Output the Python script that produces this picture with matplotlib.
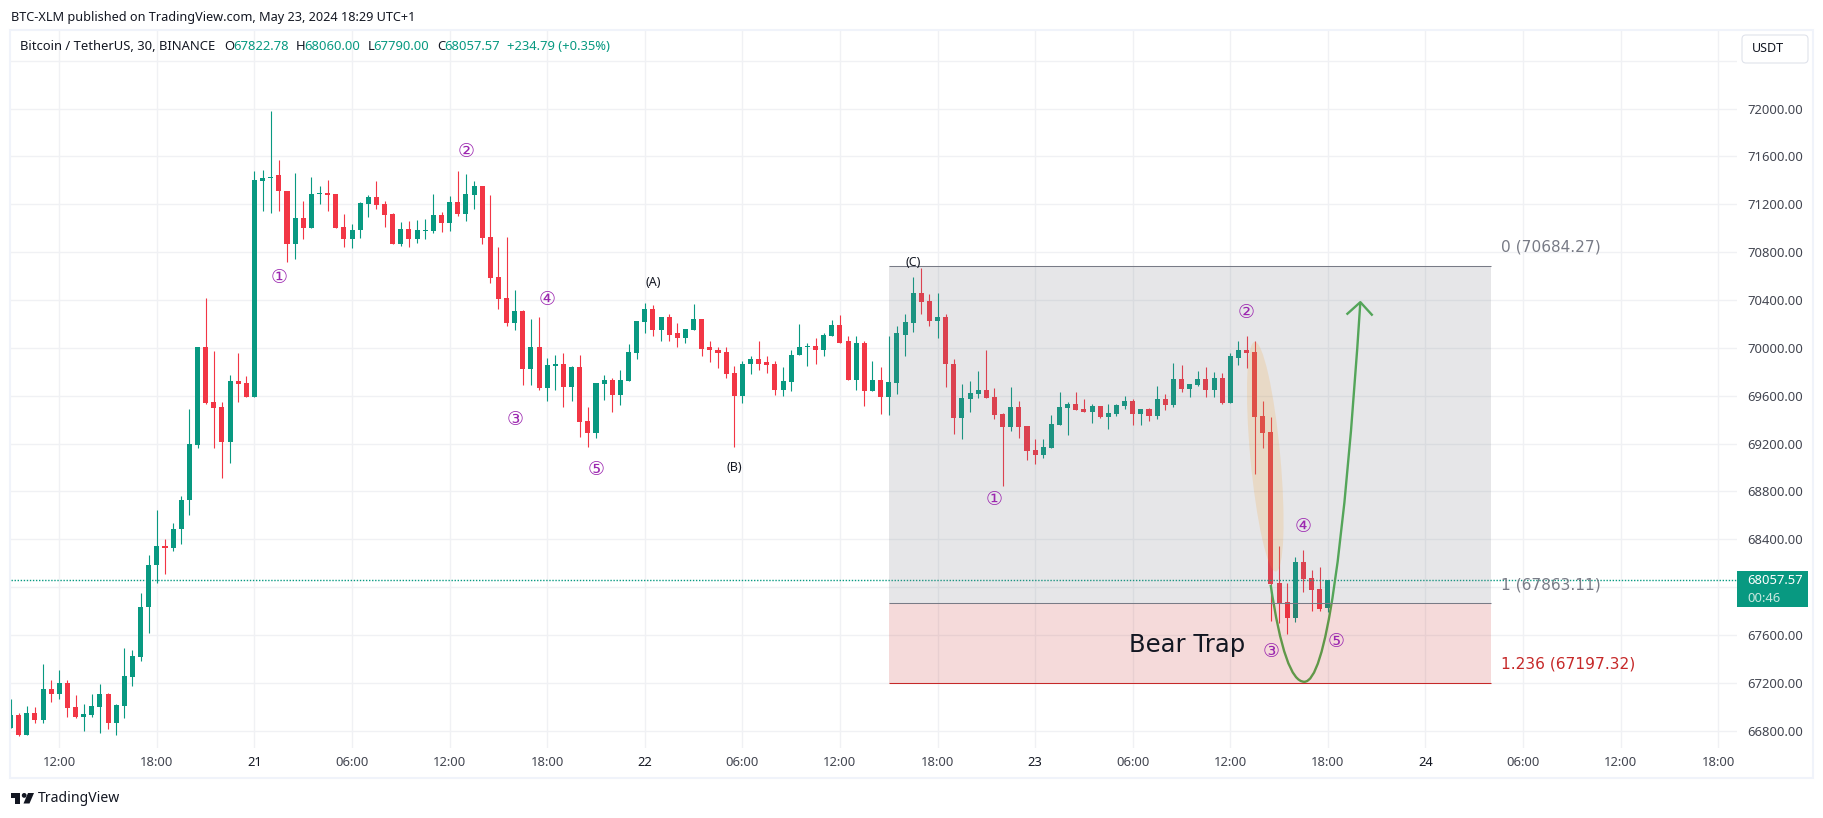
import numpy as np
import matplotlib
matplotlib.use("Agg")
import matplotlib.pyplot as plt
from matplotlib.patches import Rectangle, Ellipse, PathPatch, Polygon, Circle, FancyBboxPatch
from matplotlib.path import Path
from matplotlib.transforms import IdentityTransform

# --- BTC/USDT 30m candles, bar 0 = May 20 12:00 ---
first_bar = -6
opens = [
    66822, 66928, 66764, 66945, 66889, 67145, 67103, 67195, 66995, 66914,
    66931, 66995, 67103, 66864, 67006, 67248, 67414, 67831, 68182, 68346,
    68323, 68482, 68724, 69189, 70003, 69545, 69503, 69214, 69720, 69703,
    69589, 71395, 71417, 71446, 71312, 70865, 71087, 70998, 71282, 71293,
    71287, 71013, 70906, 70982, 71204, 71262, 71204, 71120, 70870, 70995,
    70912, 70979, 70979, 71112, 71045, 71220, 71120, 71279, 71354, 70929,
    70595, 70420, 70211, 70311, 69819, 70003, 69661, 69844, 69861, 69669,
    69836, 69386, 69286, 69694, 69728, 69602, 69719, 69953, 70220, 70328,
    70145, 70261, 70120, 70086, 70153, 70245, 70003, 69986, 69961, 69786,
    69594, 69861, 69903, 69878, 69861, 69644, 69711, 69936, 70011, 70019,
    69986, 70103, 70195, 70053, 69728, 70044, 69636, 69728, 69586, 69703,
    70111, 70211, 70461, 70395, 70228, 70261, 69869, 69411, 69569, 69611,
    69644, 69586, 69444, 69336, 69502, 69344, 69144, 69102, 69161, 69352,
    69494, 69527, 69486, 69461, 69511, 69419, 69444, 69511, 69553, 69444,
    69486, 69428, 69569, 69519, 69736, 69653, 69686, 69736, 69644, 69745,
    69536, 69913, 69979, 69963, 69429, 69295, 68036, 67878, 67744, 68211,
    68078, 67986, 67822.78,
]
highs = [
    67061, 66945, 67003, 66995, 67353, 67220, 67303, 67220, 67095, 67020,
    67103, 67186, 67111, 67020, 67487, 67478, 67954, 68271, 68646, 68404,
    68537, 68763, 69486, 70003, 70420, 69970, 69545, 69770, 69953, 69762,
    71476, 71484, 71979, 71571, 71312, 71462, 71229, 71429, 71354, 71404,
    71287, 71121, 71037, 71220, 71279, 71396, 71229, 71129, 71054, 71062,
    71070, 71079, 71287, 71137, 71270, 71479, 71454, 71396, 71354, 71279,
    70845, 70929, 70487, 70320, 70245, 70261, 69919, 69944, 69953, 69844,
    69944, 69502, 69703, 69769, 69744, 69811, 70028, 70228, 70378, 70361,
    70261, 70286, 70211, 70161, 70370, 70245, 70053, 70003, 70003, 69844,
    69886, 69928, 70061, 69928, 69894, 69836, 69978, 70203, 70044, 70086,
    70120, 70236, 70278, 70095, 70095, 70053, 69894, 69836, 70103, 70186,
    70286, 70595, 70670, 70453, 70461, 70286, 69903, 69694, 69719, 69803,
    69978, 69661, 69452, 69669, 69552, 69344, 69236, 69236, 69436, 69627,
    69544, 69627, 69569, 69527, 69511, 69527, 69527, 69594, 69569, 69486,
    69494, 69678, 69611, 69870, 69853, 69694, 69803, 69836, 69795, 69786,
    69953, 70054, 70096, 70054, 69554, 69421, 68345, 68036, 68253, 68311,
    68145, 68170, 68060,
]
lows = [
    66822, 66755, 66764, 66864, 66864, 67036, 67061, 66914, 66906, 66797,
    66914, 66780, 66814, 66764, 66906, 67172, 67381, 67615, 68032, 68107,
    68298, 68357, 68599, 69164, 69531, 69164, 68914, 69039, 69547, 69589,
    69589, 71140, 71131, 71140, 70714, 70739, 70906, 70998, 71204, 71140,
    71004, 70840, 70832, 70915, 71095, 71162, 71012, 70870, 70853, 70843,
    70878, 70912, 70962, 70970, 70979, 71104, 71062, 71162, 70870, 70545,
    70328, 70186, 70153, 69686, 69686, 69644, 69552, 69644, 69502, 69552,
    69252, 69169, 69244, 69561, 69461, 69519, 69719, 69903, 70128, 70103,
    70053, 70061, 70011, 70044, 70153, 69928, 69878, 69828, 69744, 69169,
    69536, 69778, 69811, 69786, 69602, 69594, 69636, 69936, 69844, 69861,
    69928, 70103, 70044, 69728, 69644, 69511, 69636, 69444, 69436, 69611,
    69928, 70136, 70286, 70186, 70086, 69669, 69277, 69236, 69461, 69577,
    69577, 69402, 68844, 69302, 69244, 69060, 69027, 69077, 69161, 69352,
    69269, 69477, 69461, 69369, 69411, 69319, 69427, 69486, 69353, 69353,
    69386, 69403, 69478, 69503, 69628, 69586, 69678, 69586, 69586, 69528,
    69536, 69854, 69829, 68945, 69162, 67719, 67703, 67611, 67711, 67961,
    67803, 67803, 67790,
]
closes = [
    66928, 66764, 66945, 66889, 67145, 67103, 67195, 66986, 66914, 66936,
    67003, 67103, 66864, 67011, 67253, 67420, 67837, 68187, 68346, 68323,
    68487, 68729, 69194, 70003, 69539, 69497, 69214, 69720, 69695, 69589,
    71401, 71417, 71428, 71307, 70865, 71087, 70998, 71287, 71293, 71279,
    71004, 70906, 70987, 71212, 71262, 71195, 71112, 70870, 70995, 70912,
    70987, 70987, 71112, 71045, 71220, 71120, 71287, 71354, 70920, 70587,
    70411, 70211, 70311, 69819, 70003, 69661, 69853, 69861, 69669, 69836,
    69377, 69286, 69703, 69728, 69602, 69728, 69961, 70228, 70328, 70145,
    70261, 70111, 70086, 70161, 70245, 69994, 69978, 69953, 69778, 69594,
    69869, 69903, 69869, 69853, 69644, 69719, 69944, 70011, 70019, 69986,
    70111, 70195, 70044, 69728, 70044, 69636, 69728, 69586, 69711, 70120,
    70220, 70461, 70386, 70228, 70261, 69861, 69411, 69577, 69619, 69644,
    69577, 69436, 69336, 69502, 69336, 69135, 69102, 69169, 69361, 69502,
    69527, 69477, 69461, 69511, 69419, 69452, 69519, 69553, 69444, 69486,
    69428, 69569, 69519, 69736, 69653, 69694, 69736, 69644, 69745, 69536,
    69928, 69979, 69954, 69421, 69287, 68028, 67869, 67744, 68211, 68070,
    67978, 67819, 68057.57,
]

# axis ticks
y_ticks = [66800, 67200, 67600, 68000, 68400, 68800, 69200, 69600, 70000,
           70400, 70800, 71200, 71600, 72000, 72400]
x_tick_labels = ["12:00", "18:00", "21", "06:00", "12:00", "18:00", "22", "06:00", "12:00",
                 "18:00", "23", "06:00", "12:00", "18:00", "24", "06:00", "12:00", "18:00"]
bars_per_tick = 12

# fib levels and wave labels
last_price = 68057.57
fib_top = 70684.27
fib_mid = 67863.11
fib_low = 67197.32
fib_start, fib_end = 102, 176
wave_labels = ["①", "②", "③", "④", "⑤", "①", "②", "③", "④", "⑤"]
wave_x = [27.05, 50.06, 56.09, 60.0, 66.0, 114.9, 146.0, 149.0, 153.0, 157.0]
wave_y = [70588, 71642, 69405, 70402, 68987, 68728, 70296, 67462, 68507, 67545]
abc_labels = ["(A)", "(B)", "(C)"]
abc_x = [73.06, 83.0, 105.0]
abc_y = [70545, 68999, 70713]

GREEN = "#089981"
RED = "#F23645"
GRID = "#f0f1f4"
TEXT = "#131722"
AXIS_TEXT = "#434651"
FIB_GREY = "#787b86"
FIB_RED = "#c62828"
PX = 0.72  # font px to pt at dpi 100

W, H = 1824, 818
plt.rcParams["font.family"] = ["Noto Sans", "DejaVu Sans"]
fig = plt.figure(figsize=(W / 100, H / 100), dpi=100, facecolor="white")

# main chart area, pixel box
left, right, top, bottom = 11, 1737, 31, 748
ax = fig.add_axes([left / W, 1 - bottom / H, (right - left) / W, (bottom - top) / H])
px_per_bar = 8.132
zero_px = 59.3
y72000_px = 108.6
ax.set_xlim((left - zero_px) / px_per_bar, (right - zero_px) / px_per_bar)
ax.set_ylim(72000 - (bottom - y72000_px) * 8.36, 72000 + (y72000_px - top) * 8.36)

for s in ax.spines.values():
    s.set_visible(False)
ax.yaxis.tick_right()
ax.set_yticks(y_ticks)
ax.set_yticklabels(["" if v in (68000, 72400) else f"{v:.2f}" for v in y_ticks])
x_ticks = [i * bars_per_tick for i in range(len(x_tick_labels))]
ax.set_xticks(x_ticks)
ax.set_xticklabels(x_tick_labels)
ax.tick_params(axis="y", length=0, pad=10 * PX, labelsize=13 * PX, labelcolor=AXIS_TEXT)
ax.tick_params(axis="x", length=0, pad=8 * PX, labelsize=13 * PX, labelcolor=AXIS_TEXT)
for lab in ax.get_xticklabels():
    if lab.get_text().isdigit():
        lab.set_fontweight("bold")
        lab.set_color(TEXT)
ax.grid(True, color=GRID, linewidth=1.0, zorder=0)
ax.set_axisbelow(True)

# candles
bars = np.arange(first_bar, first_bar + len(opens))
o = np.array(opens)
h = np.array(highs)
l = np.array(lows)
c = np.array(closes)
colors = [GREEN if cl >= op else RED for op, cl in zip(o, c)]
ax.vlines(bars, l, h, colors=colors, linewidth=0.8, zorder=2)
ax.bar(bars, np.abs(c - o), bottom=np.minimum(o, c), width=0.62, color=colors, linewidth=0, zorder=3)

# last price line
ax.axhline(last_price, color=GREEN, linewidth=1.0, linestyle=(0, (1, 1.2)), zorder=4)

# curve with arrow head, sits under the fib fill
curve_pts = [(148.96, 68019), (150.72, 67208), (153.1, 67208), (157.0, 67208), (159.99, 70382)]
curve = Path(curve_pts, [Path.MOVETO, Path.CURVE3, Path.CURVE3, Path.CURVE3, Path.CURVE3])
ax.add_patch(PathPatch(curve, fill=False, edgecolor="#4caf50", linewidth=1.7, zorder=5))
ax.plot([158.4, 159.99, 161.4], [70285, 70382, 70277], color="#4caf50", linewidth=1.7, zorder=5)

# fib boxes
ax.add_patch(Rectangle((fib_start, fib_mid), fib_end - fib_start, fib_top - fib_mid,
                       facecolor=FIB_GREY, alpha=0.185, linewidth=0, zorder=6))
ax.add_patch(Rectangle((fib_start, fib_low), fib_end - fib_start, fib_mid - fib_low,
                       facecolor=FIB_RED, alpha=0.17, linewidth=0, zorder=6))
ax.hlines([fib_top, fib_mid], fib_start, fib_end, color=FIB_GREY, linewidth=0.75, zorder=7)
ax.hlines(fib_low, fib_start, fib_end, color=FIB_RED, linewidth=0.75, zorder=7)

# tan ellipse, placed in pixels so the tilt stays right
fig.canvas.draw()
p_top = ax.transData.transform((147.0, 70050))
p_bot = ax.transData.transform((149.6, 68130))
center = (p_top + p_bot) / 2
length = np.hypot(*(p_top - p_bot))
angle = np.degrees(np.arctan2(p_top[1] - p_bot[1], p_top[0] - p_bot[0]))
ax.add_patch(Ellipse(center, length, 30, angle=angle, transform=IdentityTransform(),
                     facecolor="#f59a23", alpha=0.17, linewidth=0, zorder=8))

# text on the chart
for s, x, y in zip(wave_labels, wave_x, wave_y):
    ax.text(x, y, s, color="#9c27b0", fontsize=19 * PX, ha="center", va="center",
            family=["DejaVu Sans"], zorder=9)
for s, x, y in zip(abc_labels, abc_x, abc_y):
    ax.text(x, y, s, color=TEXT, fontsize=12.5 * PX, ha="center", va="center", zorder=9)
ax.text(177.3, 70840, "0 (70684.27)", color=FIB_GREY, fontsize=15.4 * PX, va="center",
        family=["DejaVu Sans"], zorder=9)
ax.text(177.3, 68016, "1 (67863.11)", color=FIB_GREY, fontsize=15.4 * PX, va="center",
        family=["DejaVu Sans"], zorder=9)
ax.text(177.3, 67356, "1.236 (67197.32)", color=FIB_RED, fontsize=15.4 * PX, va="center",
        family=["DejaVu Sans"], zorder=9)
ax.text(138.7, 67517, "Bear Trap", color=TEXT, fontsize=24.3 * PX, ha="center", va="center",
        family=["DejaVu Sans"], zorder=9)

# overlay in picture pixels for header, frame, price tag and logo
ov = fig.add_axes([0, 0, 1, 1], facecolor="none")
ov.set_xlim(0, W)
ov.set_ylim(H, 0)
ov.axis("off")
ov.add_patch(Rectangle((10, 30), 1803, 748, fill=False, edgecolor="#f0f3fa", linewidth=1.5))

ov.text(11, 17, "BTC-XLM published on TradingView.com, May 23, 2024 18:29 UTC+1",
        color=TEXT, fontsize=12.7 * PX, va="center")
ov.text(20, 47, "Bitcoin / TetherUS, 30, BINANCE", color=TEXT, fontsize=13 * PX, va="center")
for s, x, col in [("O", 224, TEXT), ("67822.78", 233, GREEN), ("H", 295.6, TEXT), ("68060.00", 304, GREEN),
                  ("L", 367.6, TEXT), ("67790.00", 373.5, GREEN), ("C", 436.8, TEXT), ("68057.57", 444.7, GREEN),
                  ("+234.79 (+0.35%)", 507, GREEN)]:
    ov.text(x, 47, s, color=col, fontsize=13 * PX, va="center")

# currency button
ov.add_patch(FancyBboxPatch((1744, 37), 62, 24, boxstyle="round,pad=2,rounding_size=4",
                            facecolor="white", edgecolor="#e0e3eb", linewidth=0.8))
ov.text(1752, 49, "USDT", color=TEXT, fontsize=12.5 * PX, va="center")

# price tag
ov.add_patch(Rectangle((1737, 571), 71, 36, facecolor=GREEN, edgecolor="none"))
ov.text(1747, 581, "68057.57", color="white", fontsize=13 * PX, va="center", fontweight="bold")
ov.text(1747, 598, "00:46", color="#c8e8e0", fontsize=13 * PX, va="center")

# TradingView logo
ov.add_patch(Polygon([(11, 793), (20.5, 793), (20.5, 803.5), (15.5, 803.5), (15.5, 798), (11, 798)],
                     facecolor=TEXT, edgecolor="none"))
ov.add_patch(Circle((24.2, 795.4), 2.4, facecolor=TEXT, edgecolor="none"))
ov.add_patch(Polygon([(28, 793), (34, 793), (29.5, 803.5), (23.5, 803.5)], facecolor=TEXT, edgecolor="none"))
ov.text(38, 799, "TradingView", color=TEXT, fontsize=14 * PX, va="center")

fig.savefig("out.png", dpi=100, facecolor="white")
